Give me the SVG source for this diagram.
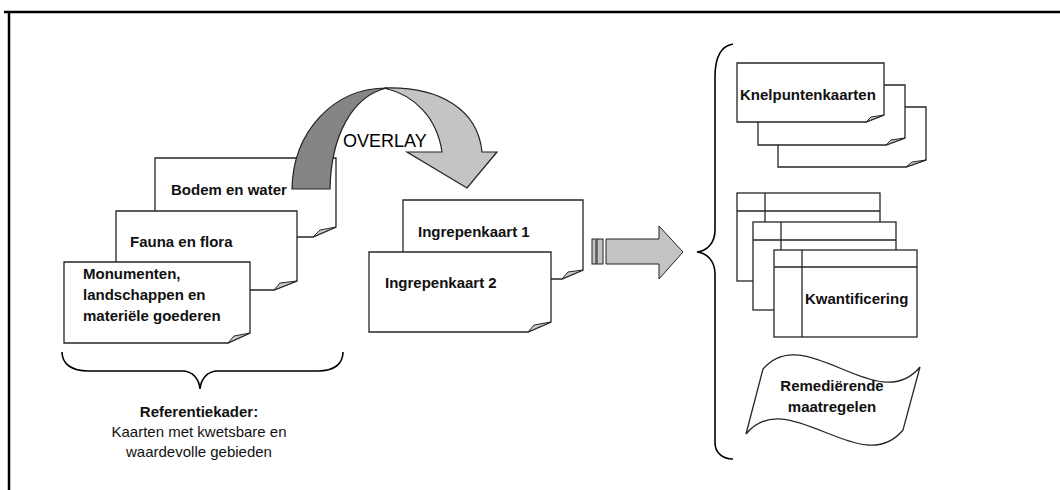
<svg xmlns="http://www.w3.org/2000/svg" width="1060" height="490" viewBox="0 0 1060 490">
  <style>
    .page { fill: #ffffff; stroke: #262626; stroke-width: 1.3; stroke-linejoin: miter; }
    .curl { fill: #c8c8c8; stroke: #262626; stroke-width: 1; }
    .tbl { fill: #ffffff; stroke: #262626; stroke-width: 1.3; }
    .grid { fill: none; stroke: #262626; stroke-width: 1.3; }
    .brace { fill: none; stroke: #000000; stroke-width: 1.6; }
    .lbl { font-family: "Liberation Sans", Arial, sans-serif; font-size: 15px; font-weight: bold; fill: #111111; }
    .txt { font-family: "Liberation Sans", Arial, sans-serif; font-size: 15px; fill: #111111; }
    .big { font-family: "Liberation Sans", Arial, sans-serif; font-size: 18px; fill: #000000; }
  </style>

  <!-- frame -->
  <path d="M4,12 H1060 M9,12 V490" fill="none" stroke="#000" stroke-width="2.5"/>

  <!-- reference maps stack -->
  <g id="bodem-water">
    <path class="page" d="M155,158 H336 V227 L313,237 H155 Z"/>
    <path class="curl" d="M313,237 L336,227 L320,230 Z"/>
    <text class="lbl" x="171" y="195">Bodem en water</text>
  </g>

  <!-- overlay arrow -->
  <g id="overlay">
    <path d="M292,189 C293,132 333,88 387,88 C352,96 331,136 330,189 Z" fill="#858585" stroke="#222" stroke-width="1.2"/>
    <path d="M384,88 C440,86 478,110 482,152 L497,152 L467,188 L407,152 L442,152 C437,118 415,95 384,88 Z" fill="#c4c4c4" stroke="#222" stroke-width="1.2"/>
    <text class="big" x="343" y="147">OVERLAY</text>
  </g>

  <g id="fauna-flora">
    <path class="page" d="M116,211 H297 V281 L274,290 H116 Z"/>
    <path class="curl" d="M274,290 L297,281 L280,283 Z"/>
    <text class="lbl" x="130" y="247">Fauna en flora</text>
  </g>

  <g id="monumenten">
    <path class="page" d="M64,262 H250 V333 L228,343 H64 Z"/>
    <path class="curl" d="M228,343 L250,333 L234,336 Z"/>
    <text class="lbl" x="83" y="279">Monumenten,</text>
    <text class="lbl" x="83" y="300">landschappen en</text>
    <text class="lbl" x="83" y="321">materiële goederen</text>
  </g>

  <g id="referentiekader">
    <text class="lbl" x="199" y="417" text-anchor="middle">Referentiekader:</text>
    <text class="txt" x="199" y="437" text-anchor="middle">Kaarten met kwetsbare en</text>
    <text class="txt" x="199" y="457" text-anchor="middle">waardevolle gebieden</text>
  </g>

  <!-- intervention maps -->
  <g id="ingrepenkaart-1">
    <path class="page" d="M403,200 H583 V270 L562,279 H403 Z"/>
    <path class="curl" d="M562,279 L583,270 L568,272 Z"/>
    <text class="lbl" x="418" y="237">Ingrepenkaart 1</text>
  </g>
  <g id="ingrepenkaart-2">
    <path class="page" d="M369,252 H551 V322 L528,332 H369 Z"/>
    <path class="curl" d="M528,332 L551,322 L534,325 Z"/>
    <text class="lbl" x="385" y="288">Ingrepenkaart 2</text>
  </g>

  <!-- connectors -->
  <g id="connectors">
    <rect x="592" y="239" width="4" height="25" fill="#c4c4c4" stroke="#222" stroke-width="1"/>
    <rect x="597" y="239" width="6" height="25" fill="#c4c4c4" stroke="#222" stroke-width="1"/>
    <path d="M606,239 H659 V226 L683,252 L659,279 V264 H606 Z" fill="#c4c4c4" stroke="#222" stroke-width="1"/>
    <path class="brace" d="M62,352 C62,364 72,371 88,371 H182 C193,371 199,379 200,389 C201,379 207,371 218,371 H318 C334,371 343,364 343,352"/>
    <path class="brace" d="M733,44 C721,46 715,58 715,77 V230 C715,243 707,251 697,252 C707,253 715,261 715,274 V443 C715,452 722,459 733,459"/>
  </g>

  <!-- bottleneck maps stack -->
  <g id="knelpuntenkaarten">
    <path class="page" d="M778,107 H926 V160 L906,167 H778 Z"/>
    <path class="curl" d="M906,167 L926,160 L912,162 Z"/>
    <path class="page" d="M758,85 H905 V138 L886,145 H758 Z"/>
    <path class="curl" d="M886,145 L905,138 L891,140 Z"/>
    <path class="page" d="M737,63 H884 V115 L866,122 H737 Z"/>
    <path class="curl" d="M866,122 L884,115 L871,117 Z"/>
    <text class="lbl" x="740" y="100">Knelpuntenkaarten</text>
  </g>

  <!-- quantification tables -->
  <g id="kwantificering">
    <rect class="tbl" x="737" y="193" width="143" height="88"/>
    <path class="grid" d="M737,211 H880 M765,193 V281"/>
    <rect class="tbl" x="753" y="222" width="143" height="88"/>
    <path class="grid" d="M753,240 H896 M781,222 V310"/>
    <rect class="tbl" x="774" y="250" width="143" height="87"/>
    <path class="grid" d="M774,267 H917 M802,250 V337"/>
    <text class="lbl" x="805" y="304">Kwantificering</text>
  </g>

  <!-- remedial measures -->
  <g id="remedierende-maatregelen">
    <path class="page" d="M763,369 C805,320 878,418 920,367 L903,430 C861,481 788,383 746,434 Z"/>
    <text class="lbl" x="832" y="391" text-anchor="middle">Remediërende</text>
    <text class="lbl" x="832" y="412" text-anchor="middle">maatregelen</text>
  </g>
</svg>
